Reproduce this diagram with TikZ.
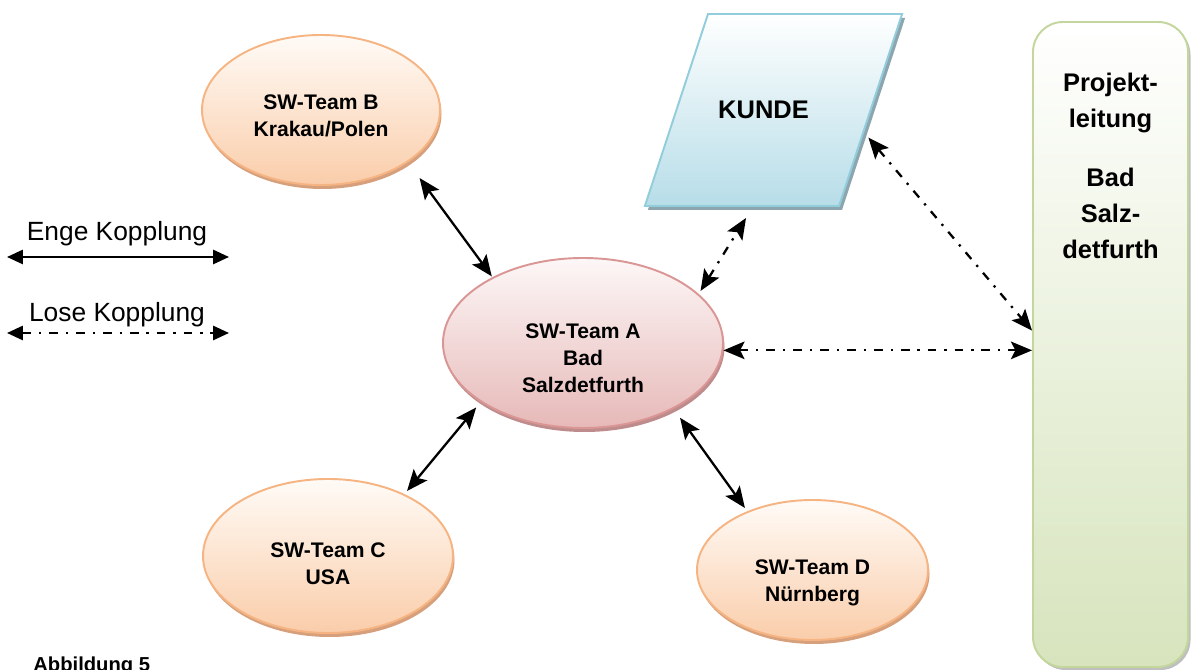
\documentclass[tikz,border=0pt]{standalone}
\usepackage{fontspec}
\setmainfont{Liberation Sans}
\usepackage{xcolor}
\usepackage{tikz}
\usetikzlibrary{shapes,arrows.meta,positioning,calc,shadows}
\definecolor{teamline}{RGB}{245,180,130}
\definecolor{teamtop}{RGB}{255,251,247}
\definecolor{teambottom}{RGB}{250,205,170}
\definecolor{teamshadow}{RGB}{215,160,125}
\definecolor{hqline}{RGB}{217,150,148}
\definecolor{hqtop}{RGB}{253,247,247}
\definecolor{hqbottom}{RGB}{230,185,184}
\definecolor{hqshadow}{RGB}{190,140,140}
\definecolor{kundeline}{RGB}{146,205,220}
\definecolor{kundebottom}{RGB}{183,221,232}
\definecolor{kundeshadow}{RGB}{140,165,175}
\definecolor{pltline}{RGB}{195,214,155}
\definecolor{pltbottom}{RGB}{215,228,189}

\begin{document}
\begin{tikzpicture}[
    team/.style={ellipse, draw=teamline, line width=1.1pt, inner sep=0pt, top color=teamtop, bottom color=teambottom,
        drop shadow={shadow xshift=0.03cm, shadow yshift=-0.08cm, fill=teamshadow, opacity=1}},
    hq/.style={ellipse, draw=hqline, line width=1.1pt, inner sep=0pt, top color=hqtop, bottom color=hqbottom,
        drop shadow={shadow xshift=0.03cm, shadow yshift=-0.08cm, fill=hqshadow, opacity=1}},
    teamtext/.style={font=\bfseries\fontsize{12}{15.5}\selectfont, align=center, inner sep=0pt},
    kunde/.style={trapezium, trapezium left angle=71.8, trapezium right angle=108.2,
        draw=kundeline, line width=1.1pt, inner xsep=1.31cm, inner ysep=1.92cm,
        top color=white, bottom color=kundebottom,
        drop shadow={shadow xshift=0.06cm, shadow yshift=-0.08cm, fill=kundeshadow, opacity=1}},
    plt/.style={rectangle, rounded corners=0.6cm, draw=pltline, line width=1.1pt, inner sep=0pt,
        minimum width=3.1cm, minimum height=12.9cm, top color=white, bottom color=pltbottom,
        drop shadow={shadow xshift=0.05cm, shadow yshift=-0.06cm, fill=black, opacity=0.25}},
    bigtext/.style={font=\bfseries\fontsize{14.5}{20.4}\selectfont, align=center, inner sep=0pt},
    legend/.style={font=\fontsize{15}{18}\selectfont, inner sep=0pt},
    tight/.style={line width=1.3pt, {Stealth[length=12pt,width=10pt,inset=2.5pt]}-{Stealth[length=12pt,width=10pt,inset=2.5pt]}},
    loose/.style={tight, dash pattern=on 5pt off 4.5pt on 1.3pt off 4.5pt},
    legendtight/.style={line width=1.3pt, {Triangle[length=9pt,width=8pt]}-{Triangle[length=9pt,width=8pt]}},
    legendloose/.style={legendtight, dash pattern=on 5pt off 4.5pt on 1.3pt off 4.5pt}
]
\useasboundingbox (0,0) rectangle (23.82,13.4);

% Projektleitung
\node[plt, label={[bigtext, anchor=north, yshift=-1.03cm]north:Projekt-\\leitung\\[13.6pt]Bad\\Salz-\\detfurth}] (P) at (22.21,6.51) {};

% Kunde
\node[kunde, label={[bigtext, xshift=-0.2cm]center:KUNDE}] (K) at (15.47,11.2) {};

% Teams
\node[hq, minimum width=5.6cm, minimum height=3.4cm,
      label={[teamtext, yshift=-0.3cm]center:SW-Team A\\Bad\\Salzdetfurth}] (A) at (11.66,6.54) {};
\node[team, minimum width=4.76cm, minimum height=3.0cm,
      label={[teamtext, yshift=-0.12cm]center:SW-Team B\\Krakau/Polen}] (B) at (6.42,11.2) {};
\node[team, minimum width=5.0cm, minimum height=3.08cm,
      label={[teamtext, yshift=-0.16cm]center:SW-Team C\\USA}] (C) at (6.56,2.28) {};
\node[team, minimum width=4.62cm, minimum height=2.8cm,
      label={[teamtext, yshift=-0.26cm]center:SW-Team D\\Nürnberg}] (D) at (16.25,2.0) {};

% Legende
\node[legend] (enge) at (2.34,8.72) {Enge Kopplung};
\node[legend] (lose) at (2.34,7.1) {Lose Kopplung};
\coordinate (engeL) at (0.14,8.26);
\coordinate (engeR) at (4.58,8.26);
\coordinate (loseL) at (0.14,6.74);
\coordinate (loseR) at (4.58,6.74);
\draw[legendtight] (engeL) -- (engeR);
\draw[legendloose] (loseL) -- (loseR);

\node[font=\bfseries\fontsize{11.5}{14}\selectfont, inner sep=0pt, anchor=north west] (abb) at (0.66,0.26) {Abbildung 5};

% Kopplungen
\draw[tight, shorten <=0.39cm, shorten >=0.02cm] (B.-31.5) -- (A.144.3);
\draw[tight, shorten <=0.14cm, shorten >=0.08cm] (A.210) -- (C.39.8);
\draw[tight, shorten <=0.22cm, shorten >=0.08cm] (A.-36.7) -- (D.138.4);
\draw[loose, shorten <=0.07cm, shorten >=0.26cm] (A.23.9) -- (K.-102.6);
\draw[loose, shorten <=0.13cm] (K.-14.5) -- (P.170.8);
\draw[loose] (A.-3.7) -- (A.-3.7 -| P.west);

\end{tikzpicture}
\end{document}
